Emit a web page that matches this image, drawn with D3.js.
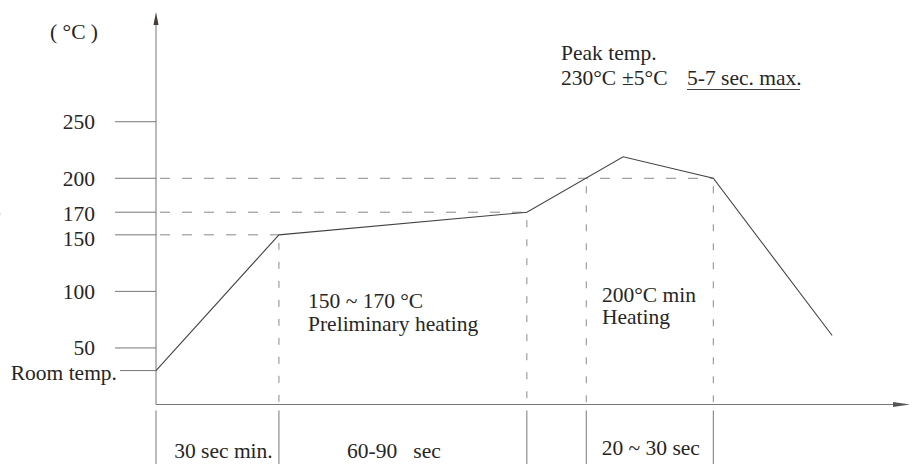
<!DOCTYPE html>
<html>
<head>
<meta charset="utf-8">
<script src="https://cdn.jsdelivr.net/npm/d3@7"></script>
<style>
  body { margin: 0; background: #fff; }
</style>
</head>
<body>
<div id="chart"></div>
<script>
(function() {
  // values
  var yTicks = [50, 100, 150, 170, 200, 250]
  var roomTemp = 30
  var profileTime = [0, 30, 90.5, 114, 136, 165]
  var profileTemp = [roomTemp, 150, 170, 219, 200, 61]

  // dashed guides: level -> where it meets the curve
  var guideTemps = [150, 170, 200]
  var guideTimes = [30, 90.5, 136]
  // vertical dashed lines
  var dropTimes = [30, 90.5, 105, 136]
  var dropTemps = [150, 170, 200, 200]

  // phases along the time axis
  var phaseStart = [0, 30, 105]
  var phaseEnd = [30, 90.5, 136]
  var phaseLabels = ['30 sec min.', '60-90   sec', '20 ~ 30 sec']
  var phaseDx = [6, -9, 1]
  var phaseY = [458, 458, 455]

  var width = 916, height = 464
  var fs = 21.5

  var svg = d3.select('#chart')
    .append('svg')
    .attr('width', width)
    .attr('height', height)
    .attr('font-family', "'Liberation Serif', 'Times New Roman', 'DejaVu Serif', serif")
    .attr('font-size', fs)
    .attr('fill', '#262626')

  var x = d3.scaleLinear().domain([0, 184]).range([156, 910])
  var y = d3.scaleLinear().domain([0, 347]).range([404.5, 12])

  var data = profileTime.map((t, i) => ({ t: t, v: profileTemp[i] }))

  // horizontal dashed guides
  svg.selectAll('.hguide')
    .data(guideTemps)
    .enter().append('line')
    .attr('x1', x(0) + 4)
    .attr('x2', (d, i) => x(guideTimes[i]))
    .attr('y1', d => y(d)).attr('y2', d => y(d))
    .attr('stroke', '#8a8a8a')
    .attr('stroke-dasharray', '10,12')

  // vertical dashed drops
  svg.selectAll('.vguide')
    .data(dropTimes)
    .enter().append('line')
    .attr('x1', d => x(d)).attr('x2', d => x(d))
    .attr('y1', (d, i) => y(dropTemps[i]) + 8)
    .attr('y2', y(0))
    .attr('stroke', '#8a8a8a')
    .attr('stroke-dasharray', '7,12')

  // tick lines
  svg.selectAll('.tick')
    .data(yTicks.concat([roomTemp]))
    .enter().append('line')
    .attr('x1', (d, i) => i === yTicks.length ? 120 : 115)
    .attr('x2', x(0))
    .attr('y1', d => y(d)).attr('y2', d => y(d))
    .attr('stroke', '#777')

  var labelDy = { 150: 4, 170: 1 }
  svg.selectAll('.ylab')
    .data(yTicks)
    .enter().append('text')
    .attr('x', 95)
    .attr('y', d => y(d) + (labelDy[d] || 0))
    .attr('dy', '0.35em')
    .attr('text-anchor', 'end')
    .text(d => d)

  svg.append('text')
    .attr('x', 117).attr('y', y(roomTemp) + 2)
    .attr('dy', '0.35em')
    .attr('text-anchor', 'end')
    .text('Room temp.')

  svg.append('text')
    .attr('x', 50).attr('y', 39)
    .text('( °C )')

  // sliver of a cut-off glyph at the left edge
  svg.append('path')
    .attr('d', 'M-3,208 Q2,214 -3,220')
    .attr('fill', 'none')
    .attr('stroke', '#999')
    .attr('stroke-width', 1.5)

  // axes
  svg.append('line')
    .attr('x1', x(0)).attr('x2', x(0))
    .attr('y1', y(0)).attr('y2', 22)
    .attr('stroke', '#777')
  svg.append('path')
    .attr('d', `M${x(0)},12 L${x(0) - 2.5},25 L${x(0) + 2.5},25 Z`)
    .attr('fill', '#4a3a3a')

  svg.append('line')
    .attr('x1', x(0)).attr('x2', 898)
    .attr('y1', y(0)).attr('y2', y(0))
    .attr('stroke', '#777')
  svg.append('path')
    .attr('d', `M910,${y(0)} L893,${y(0) - 2.5} L893,${y(0) + 2.5} Z`)
    .attr('fill', '#555')

  // the profile
  var line = d3.line()
    .x(d => x(d.t))
    .y(d => y(d.v))

  svg.append('path')
    .attr('d', line(data))
    .attr('fill', 'none')
    .attr('stroke', '#444')
    .attr('stroke-width', 1.1)

  // phase separators under the axis
  var seps = d3.union(phaseStart, phaseEnd)
  svg.selectAll('.sep')
    .data(Array.from(seps))
    .enter().append('line')
    .attr('x1', d => x(d)).attr('x2', d => x(d))
    .attr('y1', y(0) + 6).attr('y2', height)
    .attr('stroke', '#777')

  svg.selectAll('.phase')
    .data(phaseLabels)
    .enter().append('text')
    .attr('x', (d, i) => (x(phaseStart[i]) + x(phaseEnd[i])) / 2 + phaseDx[i])
    .attr('y', (d, i) => phaseY[i])
    .attr('text-anchor', 'middle')
    .style('white-space', 'pre')
    .text(d => d)

  // region notes
  svg.append('text').attr('x', 308).attr('y', 308).text('150 ~ 170 °C')
  svg.append('text').attr('x', 308).attr('y', 331).text('Preliminary heating')
  svg.append('text').attr('x', 602).attr('y', 302).text('200°C min')
  svg.append('text').attr('x', 602).attr('y', 324).text('Heating')

  // peak note
  svg.append('text').attr('x', 561).attr('y', 60).text('Peak temp.')
  svg.append('text').attr('x', 561).attr('y', 85).text('230°C')
  svg.append('text').attr('x', 622).attr('y', 85).text('±5°C')
  svg.append('text').attr('x', 687).attr('y', 85).text('5-7 sec. max.')
  svg.append('line')
    .attr('x1', 687).attr('x2', 800)
    .attr('y1', 89.5).attr('y2', 89.5)
    .attr('stroke', '#444')
})()
</script>
</body>
</html>
